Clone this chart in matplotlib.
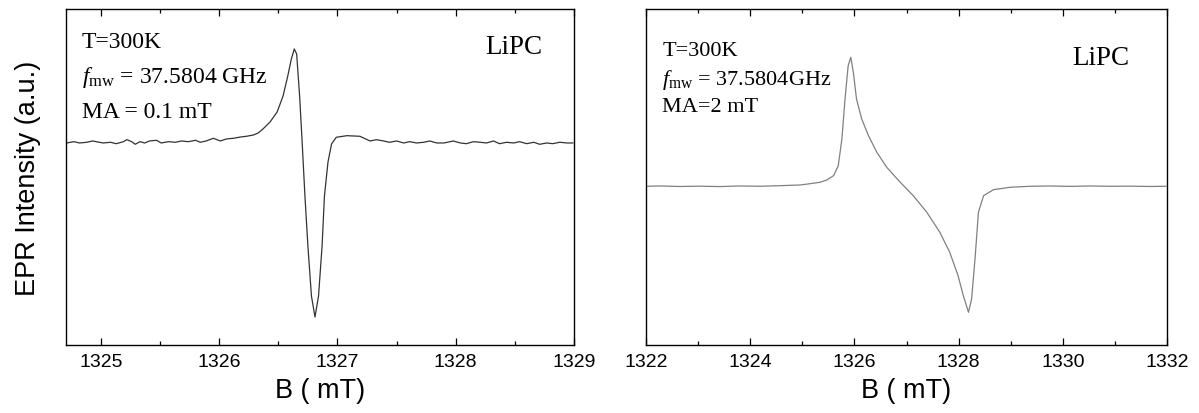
import numpy as np
import matplotlib
matplotlib.use("Agg")
import matplotlib.pyplot as plt
from matplotlib.ticker import MultipleLocator

plt.rcParams['font.family'] = ['Liberation Sans', 'DejaVu Sans']
plt.rcParams['mathtext.fontset'] = 'custom'
plt.rcParams['mathtext.rm'] = 'Liberation Serif'
plt.rcParams['mathtext.it'] = 'Liberation Serif:italic'

# left panel: MA = 0.1 mT
b_left = [1324.71, 1324.77, 1324.82, 1324.88, 1324.93, 1324.96, 1325.02, 1325.08,
          1325.13, 1325.19, 1325.22, 1325.26, 1325.29, 1325.33, 1325.37, 1325.41,
          1325.47, 1325.51, 1325.57, 1325.63, 1325.68, 1325.74, 1325.80, 1325.84,
          1325.89, 1325.95, 1326.01, 1326.06, 1326.12, 1326.18, 1326.23, 1326.29,
          1326.33, 1326.37, 1326.43, 1326.49, 1326.54, 1326.58, 1326.61, 1326.635,
          1326.655, 1326.68, 1326.70, 1326.725, 1326.75, 1326.78, 1326.81, 1326.84,
          1326.87, 1326.89, 1326.92, 1326.95, 1326.99, 1327.08, 1327.19, 1327.275,
          1327.33, 1327.39, 1327.44, 1327.50, 1327.56, 1327.61, 1327.67, 1327.73,
          1327.78, 1327.84, 1327.90, 1327.98, 1328.04, 1328.09, 1328.15, 1328.205,
          1328.26, 1328.32, 1328.37, 1328.43, 1328.49, 1328.54, 1328.60, 1328.66,
          1328.71, 1328.77, 1328.82, 1328.88, 1328.94, 1328.99]
i_left = [0, 1.3, 0, 0.7, 2, 1.3, 0, 0.7,
          -0.7, 1.3, 3.3, 1.3, -1.3, 1.3, 0, 2,
          2.7, 0, 1.3, 0.7, 2, 1.3, 2.7, 0.7,
          2, 4.7, 2, 4, 4.7, 6, 6.7, 8,
          10, 14, 21, 31, 47, 67, 84, 94,
          89, 47, 4, -53, -103, -153, -174, -153,
          -103, -53, -19, -1, 5.7, 7.3, 6.7, 2,
          3.3, 2, 0.7, 2, 0, 1.3, 0, 0.7,
          2, 0, 0, 2, 0, -0.7, 1.3, 0.7,
          0, 2, -0.7, 0.7, 0, 1.3, -0.7, 0.7,
          -1.3, 0, -0.7, 0.7, 0, 0]

# right panel: MA = 2 mT
b_right = [1322.02, 1322.27, 1322.65, 1323.04, 1323.42, 1323.80, 1324.19, 1324.57,
           1324.96, 1325.11, 1325.34, 1325.47, 1325.60, 1325.69, 1325.76, 1325.82,
           1325.88, 1325.93, 1325.98, 1326.04, 1326.14, 1326.27, 1326.43, 1326.62,
           1326.88, 1327.13, 1327.39, 1327.64, 1327.83, 1327.99, 1328.09, 1328.19,
           1328.25, 1328.32, 1328.38, 1328.48, 1328.67, 1328.99, 1329.37, 1329.75,
           1330.14, 1330.52, 1330.91, 1331.29, 1331.67, 1331.98]
i_right = [-0.3, 0, -0.5, -0.2, -0.6, 0, -0.3, 0.3,
           1, 2, 3.7, 6, 10.3, 20.3, 47, 87,
           120.3, 128.7, 113.7, 87, 67, 50.3, 33.7, 18.7,
           3.7, -9.7, -26.3, -46.3, -66.3, -89.7, -109.7, -126.3,
           -113, -69.7, -26.3, -9.7, -3.7, -1.3, -0.3, 0,
           -0.4, 0, -0.3, -0.2, -0.5, -0.3]

left_text = ["T=300K", r"$\mathit{f}_{\mathrm{mw}}$ = 37.5804 GHz", "MA = 0.1 mT"]
right_text = ["T=300K", r"$\mathit{f}_{\mathrm{mw}}$ = 37.5804GHz", "MA=2 mT"]
sample = "LiPC"

fig = plt.figure(figsize=(11.99, 4.14), dpi=100)
ax1 = fig.add_axes([0.0550, 0.1643, 0.4237, 0.8116])
ax2 = fig.add_axes([0.5388, 0.1643, 0.4345, 0.8116])

ax1.plot(b_left, i_left, color='#333333', lw=0.9)
ax2.plot(b_right, i_right, color='#808080', lw=0.9)

ax1.set_xlim(1324.704, 1329)
ax1.set_ylim(-202, 134)
ax1.xaxis.set_major_locator(MultipleLocator(1))
ax1.xaxis.set_minor_locator(MultipleLocator(0.5))

ax2.set_xlim(1322, 1332)
ax2.set_ylim(-159, 177)
ax2.xaxis.set_major_locator(MultipleLocator(2))
ax2.xaxis.set_minor_locator(MultipleLocator(1))

for ax in (ax1, ax2):
    ax.set_yticks([])
    ax.tick_params(axis='x', which='both', direction='in', top=True, labelsize=14, pad=6)
    ax.tick_params(axis='x', which='major', length=5, width=0.9)
    ax.tick_params(axis='x', which='minor', length=3, width=0.9)
    for s in ax.spines.values():
        s.set_linewidth(1.0)
    ax.set_xlabel("B ( mT)", fontsize=19.5, labelpad=5)

ax1.set_ylabel("EPR Intensity (a.u.)", fontsize=19.5, labelpad=18)

ys1 = [0.887, 0.783, 0.679]
for t, y in zip(left_text, ys1):
    ax1.text(0.031, y, t, transform=ax1.transAxes, fontsize=17,
             family='Liberation Serif', va='baseline', ha='left')
ax1.text(0.937, 0.869, sample, transform=ax1.transAxes, fontsize=19.5,
         family='Liberation Serif', va='baseline', ha='right')

ys2 = [0.863, 0.777, 0.696]
for t, y in zip(right_text, ys2):
    ax2.text(0.031, y, t, transform=ax2.transAxes, fontsize=16,
             family='Liberation Serif', va='baseline', ha='left')
ax2.text(0.927, 0.836, sample, transform=ax2.transAxes, fontsize=19.5,
         family='Liberation Serif', va='baseline', ha='right')

fig.savefig("out.png", dpi=100)
